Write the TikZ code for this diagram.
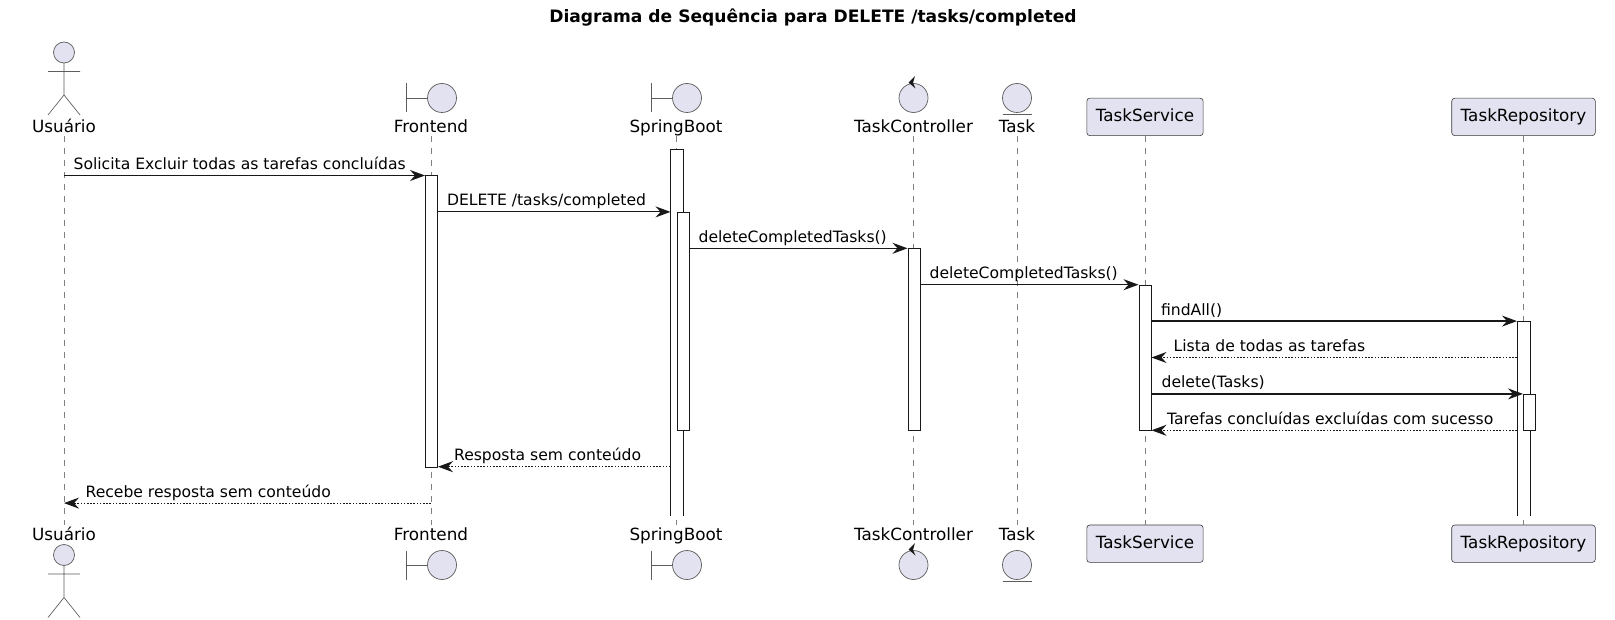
\documentclass[tikz,border=0pt]{standalone}
\usepackage{fontspec}
\setmainfont{DejaVu Sans}
\usetikzlibrary{arrows.meta}
\definecolor{umlfill}{HTML}{E2E2F0}
\definecolor{umlink}{HTML}{181818}

\tikzset{
  actorfig/.pic={
    \draw[icon, fill=umlfill] (0,0) circle[radius=10.5];
    \draw[icon] (0,10.5) -- (0,42.5) (-16,19) -- (16,19) (-16,62.5) -- (0,42.5) -- (16,62.5);
  },
  boundaryfig/.pic={
    \draw[icon, fill=umlfill] (11,0) circle[radius=14.5];
    \draw[icon] (-25,-14.5) -- (-25,14.5) (-25,0) -- (-3.5,0);
  },
  controlfig/.pic={
    \draw[icon, fill=umlfill] (0,0) circle[radius=14.5];
    \fill[umlink] (-5,-15.5) -- (1.5,-22) -- (-0.5,-15) -- (2,-9.5) -- cycle;
  },
  entityfig/.pic={
    \draw[icon, fill=umlfill] (0,0) circle[radius=14.5];
    \draw[icon] (-14.5,16.5) -- (14.5,16.5);
  },
}

\begin{document}
\begin{tikzpicture}[x=1pt,y=-1pt]
  \tikzset{
    pname/.style={font=\fontsize{16.8}{20}\selectfont, inner sep=0pt, anchor=base},
    pbox/.style={draw=umlink!85, fill=umlfill, line width=0.6pt, rounded corners=3pt,
      minimum height=37.4pt, inner xsep=9pt, text height=12.3pt, text depth=3.6pt,
      font=\fontsize{16.8}{20}\selectfont},
    life/.style={draw=umlink!55, line width=0.6pt, dash pattern=on 6pt off 6pt},
    bar/.style={draw=umlink, fill=white, line width=1pt, minimum width=12pt, inner sep=0pt, anchor=north},
    call/.style={draw=umlink, line width=1.2pt, -{Stealth[length=15pt,width=11pt,inset=5pt]}},
    back/.style={call, dash pattern=on 1.6pt off 1.6pt},
    txt/.style={font=\fontsize{15.6}{18}\selectfont, inner sep=0pt, anchor=base west, yshift=6pt},
    icon/.style={draw=umlink!70, line width=0.7pt},
  }
  \fill[white] (0,0) rectangle (1615,620);
  \useasboundingbox (0,0) rectangle (1615,620);

  \node[font=\bfseries\fontsize{17.1}{20}\selectfont] (title) at (813,17.5)
    {Diagrama de Sequência para DELETE /tasks/completed};

  % participants, top and bottom
  \pic at (64,52.5) {actorfig};
  \pic at (64,555) {actorfig};
  \pic at (431,98) {boundaryfig};
  \pic at (431,565) {boundaryfig};
  \pic at (676,98) {boundaryfig};
  \pic at (676,565) {boundaryfig};
  \pic at (913.5,98) {controlfig};
  \pic at (913.5,565) {controlfig};
  \pic at (1017,98) {entityfig};
  \pic at (1017,565) {entityfig};

  \node[pname] (usrA) at (64,132.5) {Usuário};
  \node[pname] (feA) at (431,132.5) {Frontend};
  \node[pname] (sbA) at (676,132.5) {SpringBoot};
  \node[pname] (tcA) at (913.5,132.5) {TaskController};
  \node[pname] (tkA) at (1017,132.5) {Task};
  \node[pbox] (tsA) at (1145,116.9) {TaskService};
  \node[pbox] (trA) at (1523.5,116.9) {TaskRepository};

  \node[pname] (usrB) at (64,540.5) {Usuário};
  \node[pname] (feB) at (431,540.5) {Frontend};
  \node[pname] (sbB) at (676,540.5) {SpringBoot};
  \node[pname] (tcB) at (913.5,540.5) {TaskController};
  \node[pname] (tkB) at (1017,540.5) {Task};
  \node[pbox] (tsB) at (1145,543.7) {TaskService};
  \node[pbox] (trB) at (1523.5,543.7) {TaskRepository};

  % lifelines
  \foreach \p/\x in {usr/64, fe/431, sb/676, tc/913.5, tk/1017, ts/1145, tr/1523.5}{
    \coordinate (\p-top) at (\x,136);
    \coordinate (\p-bot) at (\x,525);
    \draw[life] (\p-top) -- (\p-bot);
  }
  \foreach \i/\y in {1/175.5, 2/211.9, 3/248.3, 4/284.7, 5/321.1,
                     6/357.5, 7/393.9, 8/430.3, 9/466.7, 10/503.1}
    \coordinate (m\i) at (0,\y);

  % activations
  \node[bar, minimum height=291.2pt] (aF) at (431.5,175.5) {};
  \node[bar, draw=none, minimum height=365.7pt] (aSo) at (677,149.3) {};
  \draw[umlink, line width=1pt] (aSo.south west) -- (aSo.north west) -- (aSo.north east) -- (aSo.south east);
  \node[bar, minimum height=218.4pt] (aSi) at (683,211.9) {};
  \node[bar, minimum height=182pt] (aC) at (914,248.3) {};
  \node[bar, minimum height=145.6pt] (aT) at (1145,284.7) {};
  \node[bar, draw=none, minimum height=193.9pt] (aRo) at (1523.5,321.1) {};
  \draw[umlink, line width=1pt] (aRo.south west) -- (aRo.north west) -- (aRo.north east) -- (aRo.south east);
  \node[bar, minimum height=36.4pt] (aRi) at (1529.5,393.9) {};

  % messages
  \draw[call] (usr-top |- m1) -- (aF.west |- m1)
    node[txt, pos=0, xshift=9pt] {Solicita Excluir todas as tarefas concluídas};
  \draw[call] (aF.east |- m2) -- (aSo.west |- m2)
    node[txt, pos=0, xshift=8.5pt] {DELETE /tasks/completed};
  \draw[call] (aSi.east |- m3) -- (aC.west |- m3)
    node[txt, pos=0, xshift=8.5pt] {deleteCompletedTasks()};
  \draw[call] (aC.east |- m4) -- (aT.west |- m4)
    node[txt, pos=0, xshift=8.5pt] {deleteCompletedTasks()};
  \draw[call] (aT.east |- m5) -- (aRo.west |- m5)
    node[txt, pos=0, xshift=9pt] {findAll()};
  \draw[back] (aRo.west |- m6) -- (aT.east |- m6)
    node[txt, pos=1, xshift=21.5pt] {Lista de todas as tarefas};
  \draw[call] (aT.east |- m7) -- (aRi.west |- m7)
    node[txt, pos=0, xshift=9.5pt] {delete(Tasks)};
  \draw[back] (aRo.west |- m8) -- (aT.east |- m8)
    node[txt, pos=1, xshift=15pt] {Tarefas concluídas excluídas com sucesso};
  \draw[back] (aSo.west |- m9) -- (aF.east |- m9)
    node[txt, pos=1, xshift=15.5pt] {Resposta sem conteúdo};
  \draw[back] (fe-top |- m10) -- (usr-top |- m10)
    node[txt, pos=1, xshift=21pt] {Recebe resposta sem conteúdo};
\end{tikzpicture}
\end{document}
